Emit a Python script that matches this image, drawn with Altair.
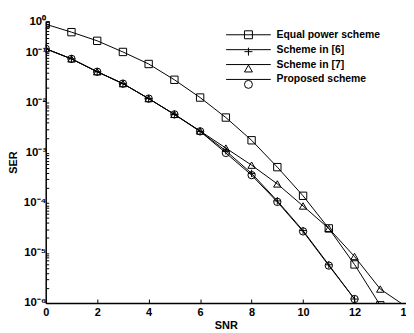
import altair as alt
import pandas as pd

# ---- data ----
names = ["Equal power scheme", "Scheme in [6]", "Scheme in [7]", "Proposed scheme"]
shapes = ["square", "M-1,0H1M0,-1V1", "triangle-up", "circle"]

snr_ep = list(range(0, 14))
ser_ep = [0.80, 0.45, 0.24, 0.107, 0.060, 0.029, 0.0128, 0.0051, 0.00179,
          5.2e-4, 1.39e-4, 3.1e-5, 5.9e-6, 9.0e-7]

snr_s6 = list(range(0, 13))
ser_s6 = [0.135, 0.076, 0.042, 0.0243, 0.0122, 0.0059, 0.0027, 0.00110,
          3.9e-4, 1.1e-4, 2.8e-5, 5.8e-6, 1.2e-6]

snr_s7 = list(range(0, 15))
ser_s7 = [0.135, 0.076, 0.042, 0.0243, 0.0122, 0.0059, 0.00275, 0.00125,
          5.7e-4, 2.4e-4, 8.7e-5, 3.1e-5, 8.5e-6, 1.9e-6, 8.5e-7]

snr_pr = list(range(0, 13))
ser_pr = [0.135, 0.076, 0.042, 0.0243, 0.0122, 0.0059, 0.0027, 0.00100,
          3.6e-4, 1.05e-4, 2.7e-5, 5.6e-6, 1.2e-6]

x_ticks = [0, 2, 4, 6, 8, 10, 12, 14]
y_major = [1e-6, 1e-5, 1e-4, 1e-3, 1e-2, 1e-1, 1]
y_minor = [m * p for p in [1e-6, 1e-5, 1e-4, 1e-3, 1e-2, 1e-1] for m in range(1, 10)] + [1]

rows = []
for nm, xs, ys in zip(names, [snr_ep, snr_s6, snr_s7, snr_pr],
                      [ser_ep, ser_s6, ser_s7, ser_pr]):
    for xv, yv in zip(xs, ys):
        rows.append({"snr": xv, "ser": yv, "series": nm, "series_pt": nm + " "})
df = pd.DataFrame(rows)

W, H = 363, 284
FONT = "Liberation Sans"

xscale = alt.Scale(domain=[0, 14], nice=False, zero=False)
yscale = alt.Scale(type="log", domain=[1e-6, 0.1, 1], range=[H, 32, 0], nice=False)

sup_expr = ("'10' + (datum.value < 0.5 ? '\u207b' : '') + "
            "['\u2070','\u00b9','\u00b2','\u00b3','\u2074','\u2075','\u2076']"
            "[abs(round(log(datum.value)/LN10))]")

x_main = alt.Axis(values=x_ticks, ticks=False, grid=False, domainColor="black",
                  domainWidth=1.5, labelFont=FONT, labelFontSize=11,
                  labelFontWeight="bold", labelColor="black", labelPadding=4,
                  labelFlush=False, labelOverlap=False, format="d",
                  title="SNR", titleFont=FONT, titleFontSize=11,
                  titleFontWeight="bold", titleColor="black", titleY=17,
                  orient="bottom")
y_main = alt.Axis(values=y_major, ticks=False, grid=False, domainColor="black",
                  domainWidth=1.5, labelFont=FONT, labelFontSize=11.5,
                  labelFontWeight="bold", labelColor="black", labelPadding=0,
                  labelExpr=sup_expr, labelOverlap=False, labelFlush=False,
                  title="SER", titleFont=FONT, titleFontSize=11,
                  titleFontWeight="bold", titleColor="black", titleX=-27,
                  titleY=H / 2, titleAlign="center", orient="left")
x_tk = alt.Axis(values=x_ticks, orient="top", offset=-H, domain=False,
                labels=False, ticks=True, tickSize=4, tickColor="black",
                tickWidth=1, grid=False, title=None)
y_tk = alt.Axis(values=y_minor, orient="right", offset=-W, domain=False,
                labels=False, ticks=True, tickSize=3, tickColor="black",
                tickWidth=1, grid=False, title=None)

LEG = dict(orient="none", legendX=199, legendY=8.5, title=None, padding=0,
           rowPadding=4, labelFont=FONT, labelFontSize=10.5,
           labelFontWeight="bold", labelColor="black", symbolSize=64,
           symbolStrokeWidth=1, symbolStrokeColor="black",
           symbolFillColor="transparent", labelOffset=23)

line = alt.Chart(df).mark_line(strokeWidth=1, clip=True).encode(
    x=alt.X("snr:Q", scale=xscale, axis=x_main),
    y=alt.Y("ser:Q", scale=yscale, axis=y_main),
    color=alt.Color("series:N", scale=alt.Scale(domain=names, range=["black"] * 4),
                    legend=alt.Legend(symbolType="M-5.625,0H5.625", **LEG)),
)

pts_domain = [n + " " for n in names]
pts = alt.Chart(df).mark_point(filled=False, color="black", strokeWidth=1,
                               size=55, opacity=1, clip=True).encode(
    x=alt.X("snr:Q", scale=xscale, axis=x_tk),
    y=alt.Y("ser:Q", scale=yscale, axis=y_tk),
    shape=alt.Shape("series_pt:N", scale=alt.Scale(domain=pts_domain, range=shapes),
                    legend=alt.Legend(labelExpr="' '", **LEG)),
)

chart = alt.layer(line, pts).resolve_axis(
    x="independent", y="independent"
).resolve_legend(color="independent", shape="independent").properties(
    width=W, height=H,
    padding={"left": 38, "top": 12, "right": 0, "bottom": 29},
    autosize=alt.AutoSizeParams(type="none"),
    background="white",
).configure_view(stroke=None)

chart.save("out.html", embed_options={"renderer": "svg", "actions": False})
